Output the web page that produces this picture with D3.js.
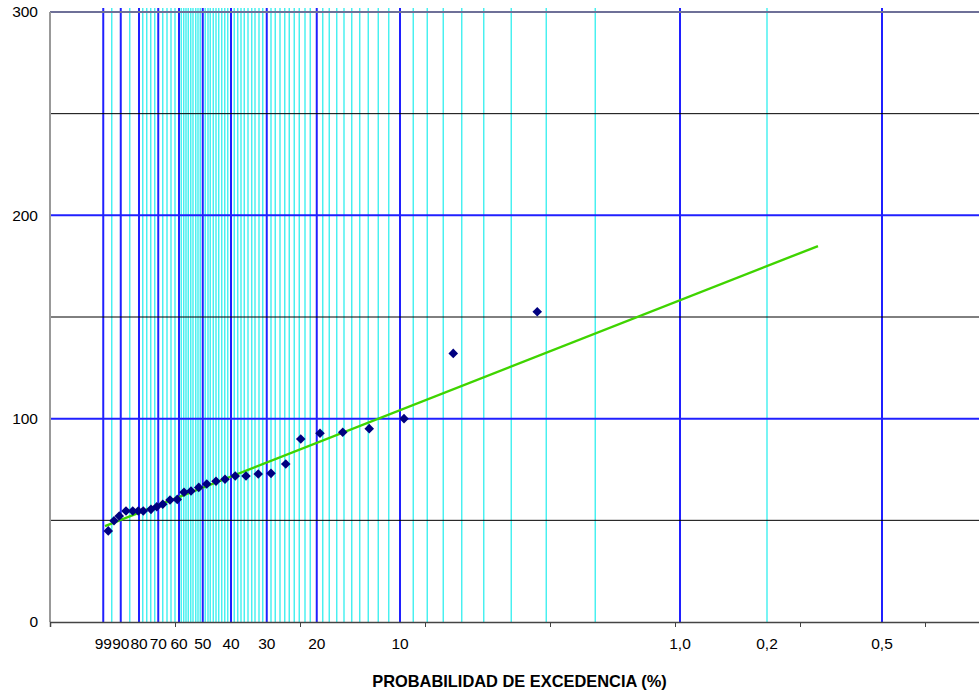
<!DOCTYPE html>
<html lang="es">
<head>
<meta charset="UTF-8">
<title>Probabilidad de excedencia</title>
<script src="https://d3js.org/d3.v7.min.js"></script>
<style>
    body { margin: 0; background: #fff; }
    svg { display: block; }
    text { font-family: "Liberation Sans", Arial, sans-serif; fill: #000; }
</style>
</head>
<body>
<script>
    var width = 979;
    var height = 694;

    // probability lines, in reduced-variate units
    var majorLines = [-1.574, -1.434, -1.288, -1.134, -0.968, -0.778, -0.552, -0.266, 0.134, 0.800, 3.040, 4.656];
    var minorLines = [-1.506, -1.362, -1.258, -1.226, -1.194, -1.162, -1.098, -1.064, -1.032, -1.000,
        -0.950, -0.930, -0.912, -0.894, -0.874, -0.856, -0.834, -0.816, -0.798,
        -0.758, -0.736, -0.718, -0.694, -0.672, -0.650, -0.626, -0.602, -0.578,
        -0.526, -0.498, -0.472, -0.446, -0.416, -0.386, -0.360, -0.328, -0.298,
        -0.232, -0.198, -0.160, -0.122, -0.086, -0.046, -0.006, 0.040, 0.082,
        0.182, 0.234, 0.294, 0.352, 0.414, 0.478, 0.546, 0.626, 0.710,
        0.906, 1.018, 1.146, 1.294, 1.470, 1.690, 1.970, 2.362, 3.736];

    var labelPos = [-1.574, -1.434, -1.288, -1.134, -0.968, -0.778, -0.552, -0.266, 0.134, 0.800, 3.040, 3.736, 4.656];
    var labelText = ["99", "90", "80", "70", "60", "50", "40", "30", "20", "10", "1,0", "0,2", "0,5"];

    var axisTicks = [-1, 0, 1, 2, 3, 4, 5];
    var yTicks = [0, 100, 200, 300];
    var yGrid = [50, 100, 150, 200, 250, 300];

    // observed values
    var pointU = [-1.534, -1.488, -1.446, -1.392, -1.338, -1.294, -1.254, -1.192, -1.146, -1.098,
        -1.040, -0.982, -0.928, -0.872, -0.810, -0.746, -0.672, -0.600, -0.518, -0.432,
        -0.334, -0.232, -0.114, 0.006, 0.160, 0.342, 0.554, 0.832, 1.226, 1.898];
    var pointV = [44.8, 49.8, 52.1, 54.6, 54.6, 54.6, 54.6, 55.4, 56.7, 57.9,
        60.0, 60.3, 63.8, 64.4, 66.2, 67.9, 69.2, 70.2, 71.8, 71.8,
        72.8, 73.1, 77.7, 90.0, 92.8, 93.3, 95.1, 100.0, 132.1, 152.6];

    // fitted line
    var trendU = [-1.56, 4.144];
    var trendV = [47.2, 184.9];

    var svg = d3.select("body").append("svg")
        .attr("width", width)
        .attr("height", height)

    var x_scale = d3.scaleLinear()
        .domain([-2, 5.5])
        .range([50, 987.5])

    var y_scale = d3.scaleLinear()
        .domain([0, 300])
        .range([622, 12])

    // vertical probability lines
    svg.append("g").selectAll("line")
        .data(minorLines)
        .join("line")
        .attr("x1", d => x_scale(d)).attr("x2", d => x_scale(d))
        .attr("y1", 8).attr("y2", y_scale(0))
        .attr("stroke", "#3ff0f0")
        .attr("stroke-width", 1.4)

    svg.append("g").selectAll("line")
        .data(majorLines)
        .join("line")
        .attr("x1", d => x_scale(d)).attr("x2", d => x_scale(d))
        .attr("y1", 8).attr("y2", y_scale(0))
        .attr("stroke", "#2020ff")
        .attr("stroke-width", 2)

    // horizontal gridlines
    svg.append("g").selectAll("line")
        .data(yGrid)
        .join("line")
        .attr("x1", 50).attr("x2", width)
        .attr("y1", d => y_scale(d)).attr("y2", d => y_scale(d))
        .attr("stroke", function (d) {
            if (d == 300) return "#6e7098";
            return d % 100 == 0 ? "#2020ff" : "#000";
        })
        .attr("stroke-width", function (d) {
            if (d == 300) return 2.2;
            return d % 100 == 0 ? 2 : 1;
        })

    // y axis
    svg.append("line")
        .attr("x1", 50).attr("x2", 50)
        .attr("y1", y_scale(300)).attr("y2", y_scale(0))
        .attr("stroke", "#999")
        .attr("stroke-width", 2)

    var yAxis = svg.append("g")
        .attr("transform", "translate(50,0)")
        .call(d3.axisLeft(y_scale).tickValues(yTicks).tickSize(0).tickPadding(12))
    yAxis.select(".domain").remove()
    yAxis.selectAll("text")
        .attr("font-size", "15.5px")
        .attr("font-family", "Liberation Sans, Arial, sans-serif")

    // x axis
    var xAxis = svg.append("g")
        .attr("transform", "translate(0," + y_scale(0) + ")")
        .call(d3.axisBottom(x_scale).tickValues(axisTicks).tickSize(5).tickFormat(""))
    xAxis.select(".domain").attr("stroke", "#444").attr("stroke-width", 1.5)
    xAxis.selectAll(".tick line").attr("stroke", "#444")

    svg.append("g").selectAll("text")
        .data(labelPos)
        .join("text")
        .attr("x", d => x_scale(d))
        .attr("y", 649)
        .attr("text-anchor", "middle")
        .attr("font-size", "15.5px")
        .text((d, i) => labelText[i])

    svg.append("text")
        .attr("x", 519.5)
        .attr("y", 686.5)
        .attr("text-anchor", "middle")
        .attr("font-size", "16.4px")
        .attr("font-weight", "bold")
        .text("PROBABILIDAD DE EXCEDENCIA (%)")

    // fitted line
    var line = d3.line()
        .x(function (d, i) { return x_scale(trendU[i]) })
        .y(function (d) { return y_scale(d) })

    svg.append("path")
        .attr("d", line(trendV))
        .attr("fill", "none")
        .attr("stroke", "#3fd400")
        .attr("stroke-width", 2.4)

    // data points
    var diamond = d3.symbol().type(d3.symbolSquare).size(46)
    svg.append("g").selectAll("path")
        .data(pointV)
        .join("path")
        .attr("d", diamond)
        .attr("transform", (d, i) => "translate(" + x_scale(pointU[i]) + "," + y_scale(d) + ") rotate(45)")
        .attr("fill", "#000080")
</script>
</body>
</html>
